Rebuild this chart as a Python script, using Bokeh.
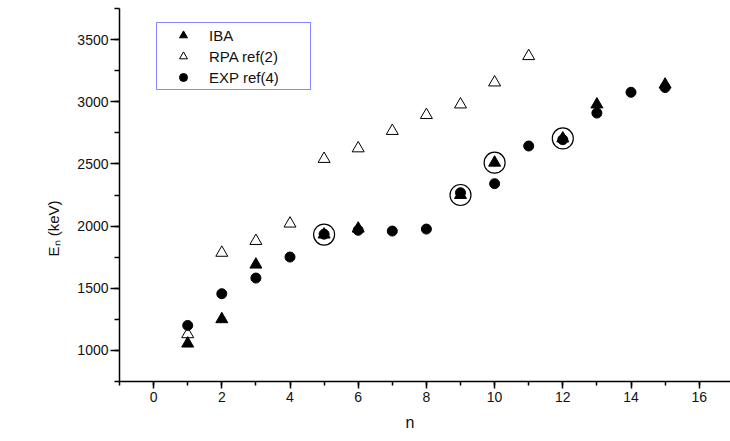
from bokeh.plotting import figure
from bokeh.models import (Range1d, SingleIntervalTicker, Legend, LegendItem, Title)
from bokeh.embed import file_html
from bokeh.resources import INLINE

# ---------------- data ----------------
iba_n = [1, 2, 3, 5, 6, 9, 10, 12, 13, 15]
iba_e = [1055, 1251, 1690, 1932, 1980, 2250, 2510, 2705, 2978, 3138]

rpa_n = [1, 2, 3, 4, 5, 6, 7, 8, 9, 10, 11]
rpa_e = [1130, 1785, 1880, 2020, 2540, 2625, 2765, 2893, 2978, 3155, 3367]

exp_n = [1, 2, 3, 4, 5, 6, 7, 8, 9, 10, 11, 12, 13, 14, 15]
exp_e = [1201, 1456, 1582, 1751, 1935, 1966, 1960, 1976, 2268, 2341, 2644, 2695, 2909, 3076, 3114]

circled_n = [5, 9, 10, 12]
circled_e = [iba_e[iba_n.index(k)] for k in circled_n]

x_ticks_interval = 2
y_ticks_interval = 500

# ---------------- layout ----------------
W, H = 730, 441
FRAME_L, FRAME_T, FRAME_B = 119, 8, 60
X0, X_PER = -1.0, 34.1
frame_w = W - FRAME_L
X1 = X0 + frame_w / X_PER
Y0, Y1 = 750, 3750

p = figure(width=W, height=H, output_backend="svg", toolbar_location=None,
           x_range=Range1d(X0, X1), y_range=Range1d(Y0, Y1),
           min_border_left=FRAME_L, min_border_right=0,
           min_border_top=FRAME_T, min_border_bottom=FRAME_B)
p.outline_line_color = None
p.xgrid.visible = False
p.ygrid.visible = False
p.background_fill_color = "white"
p.border_fill_color = "white"

FONT = "Liberation Sans"
TXT = "#111111"
for ax in (p.xaxis[0], p.yaxis[0]):
    ax.axis_line_width = 1.5
    ax.axis_line_color = "black"
    ax.major_tick_line_color = "black"
    ax.minor_tick_line_color = "black"
    ax.major_tick_line_width = 1.5
    ax.minor_tick_line_width = 1.5
    ax.major_tick_in = 0
    ax.minor_tick_in = 0
    ax.major_label_text_font = FONT
    ax.major_label_text_font_size = "14px"
    ax.major_label_text_color = TXT

p.xaxis[0].ticker = SingleIntervalTicker(interval=x_ticks_interval, num_minor_ticks=2)
p.yaxis[0].ticker = SingleIntervalTicker(interval=y_ticks_interval, num_minor_ticks=2)
p.xaxis[0].major_tick_out = 7
p.xaxis[0].minor_tick_out = 4
p.yaxis[0].major_tick_out = 9
p.yaxis[0].minor_tick_out = 5
p.xaxis[0].major_label_standoff = 3
p.yaxis[0].major_label_standoff = 2

# ---------------- glyphs ----------------
r_iba = p.scatter(iba_n, iba_e, marker="triangle", size=12,
                  fill_color="black", line_color="black")
r_rpa = p.scatter(rpa_n, rpa_e, marker="triangle", size=12,
                  fill_color="white", fill_alpha=0, line_color="black", line_width=1)
r_exp = p.scatter(exp_n, exp_e, marker="circle", size=10,
                  fill_color="black", line_color="black")
p.scatter(circled_n, circled_e, marker="circle", size=21,
          fill_color=None, line_color="black", line_width=1.2)

# ---------------- legend ----------------
legend = Legend(items=[LegendItem(label="IBA", renderers=[r_iba]),
                       LegendItem(label="RPA ref(2)", renderers=[r_rpa]),
                       LegendItem(label="EXP ref(4)", renderers=[r_exp])],
                location=(156 - FRAME_L, (H - FRAME_B) - 90),
                border_line_color="#1010ff", border_line_width=1,
                background_fill_color="white", background_fill_alpha=1,
                padding=2, margin=0, spacing=1, label_height=20,
                glyph_width=48, glyph_height=20, label_standoff=2,
                label_width=99,
                label_text_font=FONT, label_text_font_size="15px",
                label_text_color=TXT)
p.add_layout(legend, "center")

# ---------------- axis titles ----------------
ytitle = Title(text="E\u2099 (keV)", align="left", offset=125, standoff=26,
               text_font=FONT, text_font_size="15px", text_font_style="normal",
               text_color=TXT)
p.add_layout(ytitle, "left")
xtitle = Title(text="n", align="left", offset=286, standoff=14,
               text_font=FONT, text_font_size="16px", text_font_style="normal",
               text_color=TXT)
p.add_layout(xtitle, "below")

open("out.html", "w").write(file_html(p, INLINE))
